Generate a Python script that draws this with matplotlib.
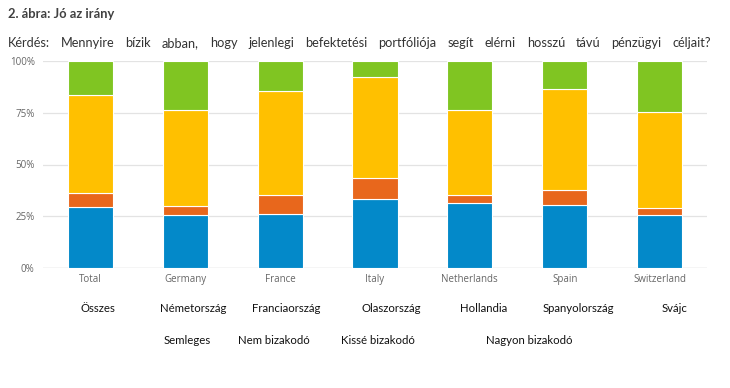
import matplotlib
matplotlib.use("Agg")
import matplotlib.pyplot as plt
import numpy as np

# ---- data ----
categories = ["Total", "Germany", "France", "Italy", "Netherlands", "Spain", "Switzerland"]
hu_categories = ["Összes", "Németország", "Franciaország", "Olaszország", "Hollandia",
                 "Spanyolország", "Svájc"]
series_names = ["Semleges", "Nem bizakodó", "Kissé bizakodó", "Nagyon bizakodó"]
semleges = [29.3, 25.4, 26.2, 33.3, 31.5, 30.2, 25.4]
nem_bizakodo = [6.7, 4.6, 9.2, 10.3, 3.9, 7.3, 3.7]
kisse_bizakodo = [47.6, 46.5, 50.2, 48.8, 41.1, 48.9, 46.3]
nagyon_bizakodo = [16.4, 23.5, 14.4, 7.6, 23.5, 13.6, 24.6]
y_ticks = [0, 25, 50, 75, 100]
y_tick_labels = ["0%", "25%", "50%", "75%", "100%"]

title = "2. ábra: Jó az irány"
question_words = ["Kérdés:", "Mennyire", "bízik", "abban,", "hogy", "jelenlegi", "befektetési",
                  "portfóliója", "segít", "elérni", "hosszú", "távú", "pénzügyi", "céljait?"]

# ---- layout ----
W, H = 730, 388
q_left, q_right = 8, 711
hu_x = [98, 193, 286, 391, 484, 578, 675]
legend_x = [187, 274, 378, 529]
colors = ["#0389C9", "#E8671C", "#FFC000", "#80C522"]

fig = plt.figure(figsize=(W / 100, H / 100), dpi=100)
ax = fig.add_axes([43 / W, 1 - 268 / H, (707 - 43) / W, (268 - 61) / H])

x = np.arange(len(categories))
series = [semleges, nem_bizakodo, kisse_bizakodo, nagyon_bizakodo]
bottom = np.zeros(len(categories))
for vals, col in zip(series, colors):
    ax.bar(x, vals, width=0.475, bottom=bottom, color=col, edgecolor="white",
           linewidth=0.8, zorder=3)
    bottom += np.array(vals)

ax.set_xlim(-0.5, 6.5)
ax.set_ylim(0, 100)
ax.set_yticks(y_ticks)
ax.set_yticklabels(y_tick_labels, fontsize=7, color="#666666", family="Open Sans")
ax.set_xticks(x)
ax.set_xticklabels(categories, fontsize=7, color="#666666", family="Open Sans")
ax.tick_params(length=0, pad=4)
ax.tick_params(axis="y", pad=6)
for s in ax.spines.values():
    s.set_visible(False)
ax.yaxis.grid(True, color="#e3e3e3", linewidth=0.9, zorder=0)
ax.axhline(0, color="#cccccc", linewidth=0.9, zorder=1)

fig.text(8 / W, 1 - 14 / H, title, fontsize=9.3, fontweight="bold", color="#404040",
         family="Lato", ha="left", va="center")

# justified question line
texts = [fig.text(0, 1 - 43 / H, wd, fontsize=9.2, color="#333333", family="Lato",
                  ha="left", va="center") for wd in question_words]
fig.canvas.draw()
renderer = fig.canvas.get_renderer()
widths = [t.get_window_extent(renderer).width for t in texts]
gap = (q_right - q_left - sum(widths)) / (len(texts) - 1)
pos = q_left
for t, w in zip(texts, widths):
    t.set_x(pos / W)
    pos += w + gap

for lab, px in zip(hu_categories, hu_x):
    fig.text(px / W, 1 - 308 / H, lab, fontsize=8.2, color="#111111", family="Lato",
             ha="center", va="center")
for lab, px in zip(series_names, legend_x):
    fig.text(px / W, 1 - 340 / H, lab, fontsize=8.2, color="#111111", family="Lato",
             ha="center", va="center")

fig.savefig("out.png", dpi=100, facecolor="white")
